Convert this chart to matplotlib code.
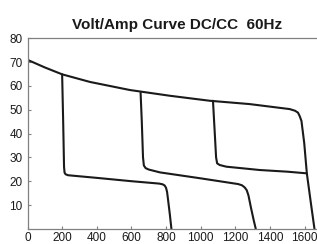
import matplotlib
matplotlib.use("Agg")
import matplotlib.pyplot as plt

plt.rcParams['font.family'] = ['Liberation Sans', 'DejaVu Sans']

title = "Volt/Amp Curve DC/CC  60Hz"
x_ticks = [0, 200, 400, 600, 800, 1000, 1200, 1400, 1600]
y_ticks = [10, 20, 30, 40, 50, 60, 70, 80]

# Open-circuit / max curve
main_x = [0, 100, 200, 361, 592, 822, 1052, 1283, 1514, 1545, 1562, 1572, 1582, 1598, 1613, 1636, 1657]
main_y = [71, 67.8, 64.9, 61.7, 58.3, 55.9, 53.8, 52.4, 50.3, 49.6, 48.8, 47.3, 45.3, 36.0, 23.3, 11.0, 0]

# Low range
b1_x = [200, 206, 211, 214, 220, 235, 400, 600, 760, 780, 792, 800, 806, 812, 822, 831]
b1_y = [64.9, 45, 26, 23.6, 22.9, 22.5, 21.4, 20.0, 19.0, 18.7, 18.2, 17.2, 15.5, 12.0, 6.0, 0]

# Medium range
b2_x = [653, 660, 667, 672, 682, 700, 765, 1000, 1216, 1238, 1254, 1266, 1276, 1290, 1305, 1318]
b2_y = [57.2, 45, 30, 26.6, 25.5, 24.9, 23.7, 21.2, 18.8, 18.3, 17.4, 16.2, 14.0, 9.0, 4.0, 0]

# High range
b3_x = [1071, 1080, 1089, 1095, 1110, 1148, 1341, 1500, 1613]
b3_y = [53.8, 42, 30, 27.5, 26.8, 26.1, 24.7, 24.0, 23.3]

fig = plt.figure(figsize=(3.17, 2.44), dpi=100)
ax = fig.add_axes([27.5 / 317, (244 - 228.8) / 244, 1.0 - 27.5 / 317 + 0.01, (228.8 - 38.4) / 244])

lc = '#1a1a1a'
for xs, ys in [(main_x, main_y), (b1_x, b1_y), (b2_x, b2_y), (b3_x, b3_y)]:
    ax.plot(xs, ys, color=lc, lw=1.5, solid_joinstyle='round', solid_capstyle='round')

ax.set_xlim(0, 1690)
ax.set_ylim(0, 80)
ax.set_xticks(x_ticks)
ax.set_xticklabels([str(v) for v in x_ticks])
ax.set_yticks(y_ticks)
ax.set_yticklabels([str(v) for v in y_ticks])

for s in ['left', 'bottom', 'top']:
    ax.spines[s].set_color('#808080')
    ax.spines[s].set_linewidth(0.9)
ax.spines['right'].set_visible(False)

ax.tick_params(direction='in', length=2.5, width=0.8, color='#808080',
               labelsize=8.5, labelcolor='#1a1a1a', pad=2.5)
ax.tick_params(axis='y', pad=3.5)

fig.text(177 / 317, (244 - 29.3) / 244, title, ha='center', va='baseline',
         fontsize=11, fontweight='bold', color='#1a1a1a')

fig.savefig('out.png', dpi=100)
